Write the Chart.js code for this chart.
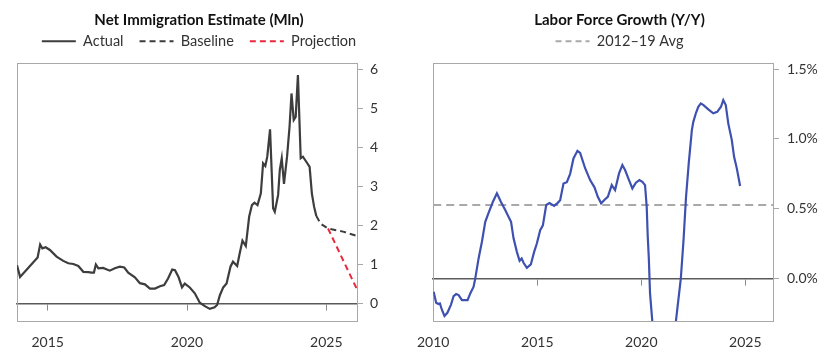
<!DOCTYPE html>
<html><head><meta charset="utf-8">
<script src="https://cdn.jsdelivr.net/npm/chart.js@4"></script>
<style>
html,body{margin:0;padding:0;background:#fff;}
#wrap{position:relative;width:840px;height:361px;overflow:hidden;background:#fff;}
#c1{position:absolute;left:0;top:0;}
#c2{position:absolute;left:417px;top:0;}
</style></head><body>
<div id="wrap">
<canvas id="c1" width="381" height="361"></canvas>
<canvas id="c2" width="405" height="361"></canvas>
</div>
<script>
// ---- Net Immigration Estimate (Mln) ----
const immYears = [2013.90,2014.01,2014.64,2014.73,2014.81,2014.93,2015.08,2015.32,2015.56,2015.74,2015.92,2016.10,2016.28,2016.46,2016.58,2016.66,2016.73,2016.82,2016.99,2017.23,2017.41,2017.59,2017.75,2017.89,2018.13,2018.31,2018.49,2018.67,2018.85,2019.03,2019.18,2019.32,2019.47,2019.57,2019.70,2019.82,2019.92,2020.10,2020.28,2020.46,2020.64,2020.82,2020.99,2021.08,2021.18,2021.30,2021.42,2021.56,2021.65,2021.80,2021.89,2021.99,2022.11,2022.23,2022.33,2022.42,2022.53,2022.65,2022.73,2022.81,2022.88,2022.98,2023.09,2023.15,2023.27,2023.33,2023.40,2023.48,2023.59,2023.68,2023.75,2023.83,2023.90,2023.98,2024.08,2024.16,2024.28,2024.40,2024.48,2024.56,2024.64];
const immValues = [0.99,0.69,1.19,1.52,1.42,1.45,1.38,1.21,1.10,1.04,1.02,0.97,0.82,0.81,0.80,0.80,1.01,0.91,0.92,0.85,0.91,0.95,0.93,0.80,0.68,0.53,0.50,0.39,0.39,0.45,0.48,0.65,0.88,0.86,0.68,0.42,0.52,0.42,0.27,0.03,-0.06,-0.13,-0.09,-0.03,0.22,0.42,0.52,0.95,1.08,0.97,1.29,1.62,1.48,2.23,2.53,2.59,2.53,2.83,3.60,3.53,3.77,4.47,2.45,2.36,2.79,3.43,3.73,3.07,3.77,4.54,5.39,4.71,4.79,5.86,3.73,3.77,3.64,3.51,2.83,2.49,2.25];
const baseYears = [2024.64,2024.80,2025.06,2025.60,2026.10];
const baseValues = [2.25,2.05,1.93,1.85,1.74];
const projYears = [2025.06,2026.10];
const projValues = [1.93,0.37];
const immXTicks = [2015,2020,2025];
const immYTicks = [0,1,2,3,4,5,6];

// ---- Labor Force Growth (Y/Y) ----
const lfYears = [2010.02,2010.14,2010.25,2010.32,2010.42,2010.54,2010.68,2010.85,2010.98,2011.10,2011.22,2011.38,2011.65,2011.78,2011.94,2012.02,2012.18,2012.34,2012.50,2012.66,2012.87,2013.06,2013.25,2013.46,2013.66,2013.74,2013.86,2014.02,2014.15,2014.25,2014.34,2014.50,2014.69,2014.85,2014.98,2015.14,2015.27,2015.43,2015.59,2015.81,2015.97,2016.10,2016.26,2016.42,2016.58,2016.74,2016.93,2017.06,2017.30,2017.54,2017.75,2017.91,2018.07,2018.26,2018.39,2018.58,2018.74,2018.93,2019.09,2019.22,2019.41,2019.57,2019.74,2019.91,2020.05,2020.18,2020.26,2020.31,2020.36,2020.42,2020.53,2020.62,2020.75,2021.00,2021.30,2021.50,2021.67,2021.90,2022.03,2022.15,2022.28,2022.43,2022.50,2022.63,2022.74,2022.86,2022.99,2023.22,2023.46,2023.65,2023.83,2023.94,2024.06,2024.18,2024.35,2024.46,2024.59,2024.75];
const lfValues = [-0.096,-0.175,-0.184,-0.180,-0.227,-0.270,-0.247,-0.190,-0.127,-0.113,-0.120,-0.156,-0.156,-0.108,-0.060,0.000,0.143,0.263,0.406,0.470,0.550,0.610,0.550,0.490,0.430,0.406,0.287,0.190,0.126,0.143,0.112,0.076,0.100,0.190,0.250,0.346,0.380,0.526,0.540,0.520,0.540,0.560,0.680,0.690,0.750,0.860,0.915,0.900,0.790,0.705,0.653,0.585,0.538,0.567,0.585,0.669,0.633,0.753,0.813,0.777,0.705,0.645,0.686,0.705,0.693,0.669,0.514,0.300,0.150,-0.108,-0.310,-1.0,-2.5,-3.0,-2.0,-1.0,-0.300,0.000,0.275,0.585,0.825,1.064,1.123,1.188,1.231,1.255,1.243,1.212,1.184,1.195,1.231,1.279,1.243,1.112,0.992,0.872,0.789,0.662];
const avgYears = [2010,2026.33];
const avgValue = 0.526;
const lfXTicks = [2010,2015,2020,2025];
const lfYTicks = [0,0.5,1.0,1.5];

const FONT = 'Lato, "Noto Sans", sans-serif';
const FRAME = '#a8a8a8';
const TXT = '#333333';
const pts = (xs, ys) => xs.map((x, i) => ({x: x, y: ys[i]}));
const setTicks = arr => (s => { s.ticks = arr.map(v => ({value: v})); });

function commonScales(xmin, xmax, xticks, ymin, ymax, yticks, yfmt, leftW, rightW, yPad) {
  return {
    x: {
      type: 'linear', position: 'bottom', min: xmin, max: xmax,
      afterBuildTicks: setTicks(xticks),
      grid: {display: false, drawTicks: true, tickLength: 13},
      border: {display: true, color: FRAME, width: 1},
      ticks: {padding: 0, color: TXT, font: {family: FONT, size: 14}, callback: v => String(v), maxRotation: 0, autoSkip: false},
      afterFit: s => { s.height = 40; }
    },
    xz: {
      type: 'linear', position: {y: 0}, min: xmin, max: xmax,
      afterBuildTicks: setTicks(xticks),
      grid: {display: true, drawOnChartArea: false, drawTicks: true, tickLength: 6, tickColor: '#8a8a8a', tickWidth: 1},
      border: {display: true, color: '#5a5a5a', width: 1.6},
      ticks: {display: false},
      afterFit: s => { s.height = 0; }
    },
    xt: {
      type: 'linear', position: 'top',
      grid: {display: false, drawTicks: false},
      border: {display: true, color: FRAME, width: 1},
      ticks: {display: false},
      afterFit: s => { s.height = 4.5; }
    },
    yl: {
      type: 'linear', position: 'left',
      grid: {display: false, drawTicks: false},
      border: {display: true, color: FRAME, width: 1},
      ticks: {display: false},
      afterFit: s => { s.width = leftW; }
    },
    y: {
      type: 'linear', position: 'right', min: ymin, max: ymax,
      afterBuildTicks: setTicks(yticks),
      grid: {display: true, drawOnChartArea: false, drawTicks: true, tickLength: 6, tickColor: FRAME, tickWidth: 1},
      border: {display: true, color: FRAME, width: 1},
      ticks: {padding: yPad, color: TXT, font: {family: FONT, size: 14}, callback: yfmt, autoSkip: false},
      afterFit: s => { s.width = rightW; }
    }
  };
}

function titleOpt(text) {
  return {display: true, text: text, color: '#111111', font: {family: FONT, size: 15, weight: 'bold'}, padding: {top: 11, bottom: -11}};
}

function legendLabels(filterFn, dashOverride) {
  return {
    usePointStyle: true, pointStyle: 'line', pointStyleWidth: 34, padding: 16, color: TXT,
    font: {family: FONT, size: 14.5},
    filter: filterFn,
    generateLabels: chart => Chart.defaults.plugins.legend.labels.generateLabels(chart).map(it => {
      const ds = chart.data.datasets[it.datasetIndex];
      it.lineDash = dashOverride || ds.borderDash || [];
      it.lineWidth = 2;
      it.strokeStyle = ds.borderColor;
      return it;
    })
  };
}

new Chart(document.getElementById('c1'), {
  type: 'line',
  data: {
    datasets: [
      {label: 'Actual', data: pts(immYears, immValues), borderColor: '#3d3d3d', borderWidth: 2.2, pointRadius: 0, tension: 0, xAxisID: 'x', yAxisID: 'y'},
      {label: 'Baseline', data: pts(baseYears, baseValues), borderColor: '#3d3d3d', borderWidth: 2, borderDash: [6, 4], pointRadius: 0, tension: 0, xAxisID: 'x', yAxisID: 'y'},
      {label: 'Projection', data: pts(projYears, projValues), borderColor: '#e8283c', borderWidth: 2, borderDash: [6, 4], pointRadius: 0, tension: 0, xAxisID: 'x', yAxisID: 'y'}
    ]
  },
  options: {
    responsive: false, animation: false, events: [],
    layout: {padding: {left: 17, right: 0, top: 0, bottom: 0}},
    plugins: {
      title: titleOpt('Net Immigration Estimate (Mln)'),
      legend: {display: true, position: 'top', labels: legendLabels(undefined, null)},
      tooltip: {enabled: false}
    },
    scales: commonScales(2013.9, 2026.1, immXTicks, -0.44, 6.17, immYTicks, v => String(v), 0, 24, 7)
  }
});

new Chart(document.getElementById('c2'), {
  type: 'line',
  data: {
    datasets: [
      {label: 'Labor Force Growth', data: pts(lfYears, lfValues), borderColor: '#3f51b0', borderWidth: 2.2, pointRadius: 0, tension: 0, xAxisID: 'x', yAxisID: 'y'},
      {label: '2012\u201319 Avg', data: pts(avgYears, [avgValue, avgValue]), borderColor: '#a9a9a9', borderWidth: 2, borderDash: [8, 5], pointRadius: 0, tension: 0, xAxisID: 'x', yAxisID: 'y'}
    ]
  },
  options: {
    responsive: false, animation: false, events: [],
    layout: {padding: {left: 0, right: 0, top: 0, bottom: 0}},
    plugins: {
      title: titleOpt('Labor Force Growth (Y/Y)'),
      legend: {display: true, position: 'top', labels: legendLabels(item => item.datasetIndex === 1, [6, 4])},
      tooltip: {enabled: false}
    },
    scales: commonScales(2010, 2026.33, lfXTicks, -0.306, 1.545, lfYTicks, v => v.toFixed(1) + '%', 16, 49, 8)
  }
});
</script>
</body></html>
